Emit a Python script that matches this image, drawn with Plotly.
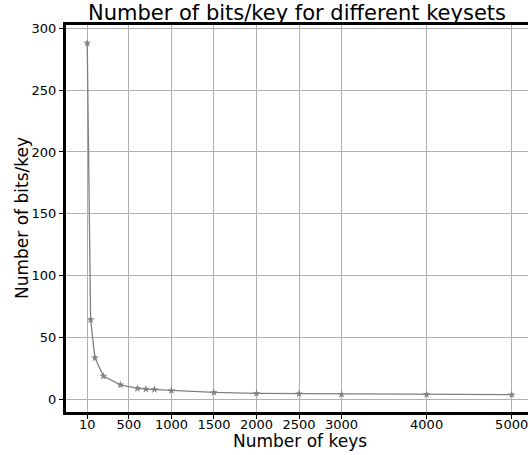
import plotly.graph_objects as go

keys = [10, 50, 100, 200, 400, 600, 700, 800, 1000, 1500, 2000, 2500, 3000, 4000, 5000]
bits_per_key = [288, 64.5, 33.6, 18.8, 11.8, 8.9, 8.3, 8.0, 7.0, 5.6, 4.8, 4.6, 4.1, 4.0, 3.8]
x_ticks = [10, 500, 1000, 1500, 2000, 2500, 3000, 4000, 5000]
y_ticks = [0, 50, 100, 150, 200, 250, 300]

FONT = "DejaVu Sans"
W, H = 528, 455
ML, MR, MT, MB = 66, 0, 25, 43

fig = go.Figure()
fig.add_trace(go.Scatter(
    x=keys, y=bits_per_key, mode="lines+markers",
    line=dict(color="#808080", width=1.3),
    marker=dict(symbol="star", size=6, color="#808080"),
    showlegend=False,
))

fig.update_layout(
    width=W, height=H,
    margin=dict(l=ML, r=MR, t=MT, b=MB, autoexpand=False),
    paper_bgcolor="white", plot_bgcolor="white",
    font=dict(family=FONT, color="black", size=13),
    title=dict(text="Number of bits/key for different keysets", x=297 / W, xanchor="center",
               y=1 - 13 / H, yanchor="middle", font=dict(size=21, family=FONT)),
)
fig.update_xaxes(
    range=[-239.5, 5192], tickvals=x_ticks, ticktext=[str(v) for v in x_ticks],
    showgrid=True, gridcolor="#b0b0b0", gridwidth=1,
    showline=True, linecolor="black", linewidth=3, mirror=True,
    ticks="outside", ticklen=4, tickcolor="black",
    ticklabeloverflow="allow", ticklabelstandoff=-6,
    zeroline=False, automargin=False,
)
fig.update_yaxes(
    range=[-10.2, 302.6], tickvals=y_ticks,
    showgrid=True, gridcolor="#b0b0b0", gridwidth=1,
    showline=True, linecolor="black", linewidth=3, mirror=False,
    ticks="outside", ticklen=4, tickcolor="black",
    zeroline=False, automargin=False,
)

fig.add_annotation(text="Number of keys", xref="paper", yref="paper",
                   x=(299.5 - ML) / (W - ML - MR), y=-(441 - (H - MB)) / (H - MT - MB),
                   xanchor="center", yanchor="middle", showarrow=False,
                   font=dict(size=17, family=FONT))
fig.add_annotation(text="Number of bits/key", xref="paper", yref="paper",
                   x=-(ML - 22) / (W - ML - MR), y=(H - MB - 218) / (H - MT - MB),
                   xanchor="center", yanchor="middle", showarrow=False, textangle=-90,
                   font=dict(size=17, family=FONT))

fig.write_html("out.html")
